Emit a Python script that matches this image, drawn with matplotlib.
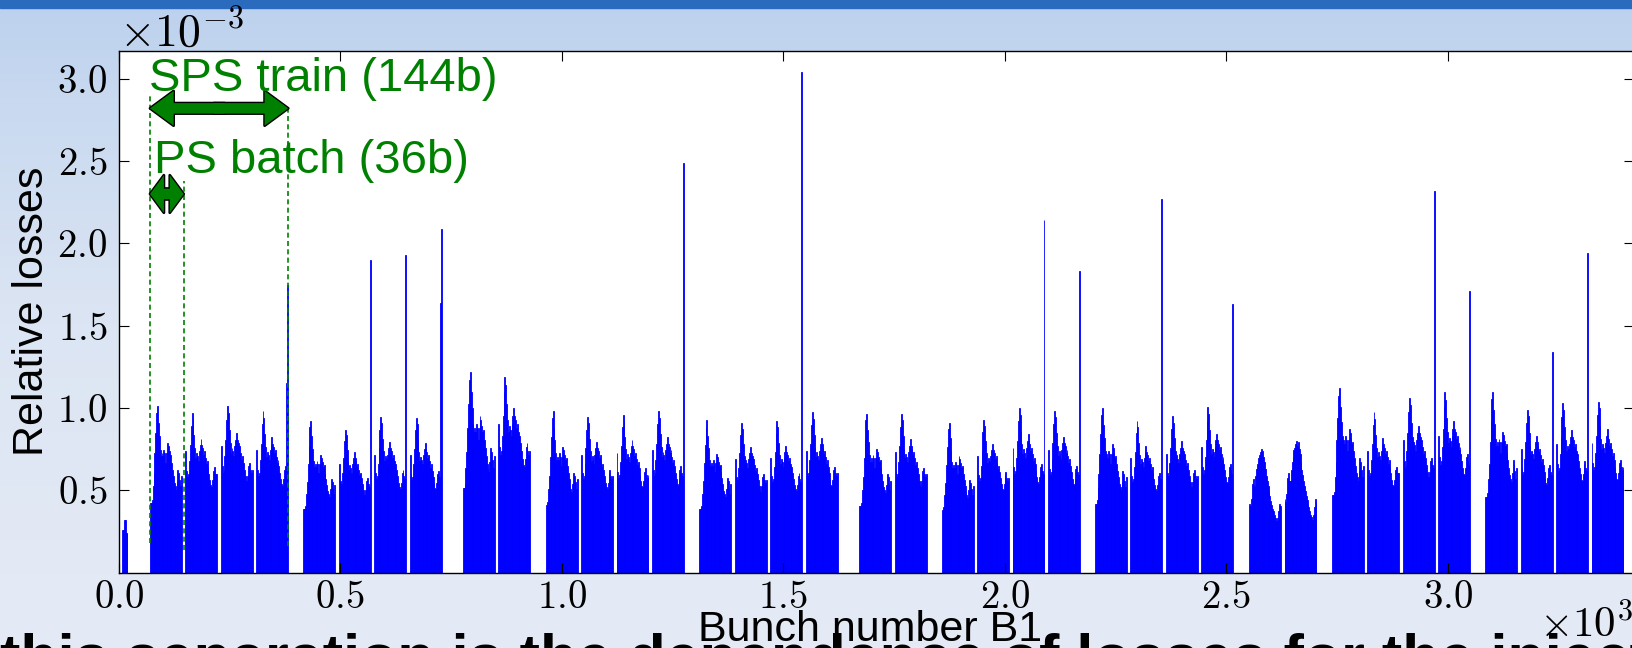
import numpy as np
import matplotlib
matplotlib.use('Agg')
import matplotlib.pyplot as plt
from matplotlib.colors import LinearSegmentedColormap
from matplotlib.patches import Rectangle

plt.rcParams.update({
    'font.family': 'cmr10',
    'mathtext.fontset': 'cm',
    'axes.formatter.use_mathtext': True,
    'axes.linewidth': 1.0,
})

# ---- data (losses in units of 1e-3, x in 25 ns slots) ----
pilot_slot = [8, 10, 12, 14, 16, 18]
pilot_loss = [0.26, 0.26, 0.32, 0.32, 0.24, 0.24]

train_start = [71, 417, 777, 964, 1311, 1672, 1858, 2204, 2552, 2739, 3085]
train_batches = [4, 4, 2, 4, 4, 2, 4, 4, 2, 4, 4]
train_kind = ['std', 'std', 'std', 'std', 'std', 'std', 'std', 'std', 'hump', 'std', 'std']

# peak level of every 36-bunch PS batch (spikes excluded)
batch_peak = [1.01, 0.97, 1.01, 0.98,
              0.92, 0.87, 0.945, 0.94,
              1.22, 1.19,
              0.98, 0.945, 0.96, 0.98,
              0.925, 0.91, 0.92, 0.975,
              0.965, 0.965,
              0.91, 0.93, 1.0, 0.985,
              1.0, 0.92, 0.95, 1.005,
              0.75, 0.80,
              1.12, 0.975, 1.06, 1.095,
              1.10, 0.99, 1.03, 1.04]

# typical bunch-by-bunch pattern inside a batch (peak = 1)
shape_head = [0.42, 0.42, 0.44, 0.52, 0.60, 0.72, 0.84, 0.96, 1.00, 0.90, 0.82, 0.74,
              0.70, 0.72, 0.70, 0.74, 0.72, 0.66, 0.72, 0.78, 0.76, 0.73, 0.70, 0.71,
              0.66, 0.62, 0.58, 0.54, 0.52, 0.50, 0.55, 0.62, 0.60, 0.56, 0.52, 0.58]
shape_next = [0.76, 0.64, 0.60, 0.62, 0.70, 0.80, 0.92, 1.00, 0.96, 0.86, 0.78, 0.72,
              0.75, 0.73, 0.70, 0.76, 0.80, 0.84, 0.80, 0.78, 0.74, 0.76, 0.72, 0.68,
              0.70, 0.66, 0.62, 0.58, 0.55, 0.54, 0.58, 0.64, 0.66, 0.62, 0.60, 0.62]
shape_hump = [0.56, 0.54, 0.60, 0.72, 0.76, 0.70, 0.70, 0.78, 0.84, 0.88, 0.93, 0.95,
              0.98, 1.00, 0.96, 0.99, 0.94, 0.90, 0.84, 0.78, 0.74, 0.70, 0.66, 0.62,
              0.58, 0.55, 0.52, 0.50, 0.47, 0.44, 0.42, 0.40, 0.44, 0.50, 0.56, 0.54]

# isolated high-loss bunches: (batch index, bunch index in batch, loss)
spike_batch = [3, 3, 5, 6, 7, 7, 13, 16, 22, 23, 25, 27, 32, 33, 35, 36]
spike_bunch = [34, 35, 35, 35, 34, 35, 35, 35, 35, 35, 35, 35, 35, 35, 35, 35]
spike_loss = [1.15, 1.75, 1.90, 1.93, 1.64, 2.09, 2.49, 3.04, 2.14, 1.83,
              2.27, 1.63, 2.32, 1.71, 1.34, 1.94]

BATCH_STEP = 80   # slots between PS batches
BUNCH_STEP = 2    # 50 ns spacing
N_BUNCH = 36

spikes = {(b, k): v for b, k, v in zip(spike_batch, spike_bunch, spike_loss)}

slots = list(pilot_slot)
losses = list(pilot_loss)
batch_first = []
ib = 0
for start, nb, kind in zip(train_start, train_batches, train_kind):
    for k in range(nb):
        first = start + k * BATCH_STEP
        batch_first.append(first)
        if kind == 'hump':
            shape = shape_hump
        elif k == 0:
            shape = shape_head
        else:
            shape = shape_next
        for j, s in enumerate(shape):
            slots.append(first + j * BUNCH_STEP)
            losses.append(spikes.get((ib, j), batch_peak[ib] * s))
        ib += 1

slots = np.array(slots)
losses = np.array(losses) * 1e-3

# ---- figure ----
fig = plt.figure(figsize=(16.33, 6.48), dpi=100)

# slide background
bg = fig.add_axes([0, 0, 1, 1], zorder=-10)
bg.axis('off')
cmap = LinearSegmentedColormap.from_list(
    'slide', [(0, '#e5ebf6'), (0.5, '#dce5f3'), (0.85, '#c8d9f0'), (1.0, '#bcd1ee')])
bg.imshow(np.linspace(0, 1, 256).reshape(-1, 1), aspect='auto', cmap=cmap,
          extent=[0, 1, 0, 1], origin='lower')
bg.add_patch(Rectangle((0, 0.988), 1, 0.012, color='#2a6bbd', transform=bg.transAxes))
bg.set_xlim(0, 1)
bg.set_ylim(0, 1)

fig.text(0.0, -0.045, 'this separation is the dependence of losses for the injection of SPS',
         fontsize=44, fontweight='bold', family='Liberation Sans', color='black',
         va='baseline', zorder=0)

ax = fig.add_axes([0.0726, 0.116, 0.9278, 0.8058], zorder=1)
ax.set_facecolor('white')
ax.bar(slots, losses, width=BUNCH_STEP, align='edge', color='#0000ff',
       edgecolor='#0000ff', linewidth=0.6)

ax.set_xlim(0, 3420)
ax.set_ylim(0, 3.17e-3)
ax.set_yticks([0.5e-3, 1.0e-3, 1.5e-3, 2.0e-3, 2.5e-3, 3.0e-3])
ax.ticklabel_format(style='sci', axis='both', scilimits=(0, 0), useMathText=True)
ax.tick_params(direction='in', top=True, right=True, length=7, width=0.8, labelsize=28)
ax.tick_params(axis='x', pad=5)
ax.tick_params(axis='y', pad=8)
ax.xaxis.get_offset_text().set_fontsize(31)
ax.yaxis.get_offset_text().set_fontsize(33)
ax.xaxis.OFFSETTEXTPAD = -9

ax.set_xlabel('Bunch number B1', fontsize=31, family='Liberation Sans')
ax.set_ylabel('Relative losses', fontsize=31, family='Liberation Sans')
ax.xaxis.set_label_coords(0.496, -0.072)
ax.yaxis.set_label_coords(-0.044, 0.5)

# ---- SPS train / PS batch annotation ----
green = '#008000'
train0_end = train_start[0] + (train_batches[0] - 1) * BATCH_STEP + N_BUNCH * BUNCH_STEP
batch0_end = batch_first[0] + N_BUNCH * BUNCH_STEP
batch_mark = 0.5 * (batch0_end + batch_first[1])

ax.vlines([train_start[0], batch_mark, train0_end],
          [0.18e-3, 0.14e-3, 0.16e-3], [2.9e-3, 2.38e-3, 2.82e-3],
          colors=green, linestyles=(0, (3, 2)), linewidth=1.2, zorder=3)


def double_arrow(x0, x1, y, head_w, head_l, tail_w):
    xm = 0.5 * (x0 + x1)
    ov = 0.04 * (x1 - x0)
    style = f'simple,head_length={head_l},head_width={head_w},tail_width={tail_w}'
    for lw, ec in [(2.0, 'black'), (0.0, 'none')]:
        for a, b in [(xm - ov, x1), (xm + ov, x0)]:
            ax.annotate('', xy=(b, y), xytext=(a, y),
                        arrowprops=dict(arrowstyle=style, fc=green, ec=ec, lw=lw,
                                        shrinkA=0, shrinkB=0, mutation_scale=1),
                        zorder=4)


double_arrow(train_start[0], train0_end, 2.82e-3, 25, 17, 7.5)
double_arrow(train_start[0], batch_mark, 2.30e-3, 27, 10, 7.5)

ax.text(train_start[0] - 2, 3.0e-3, 'SPS train (144b)', color=green, fontsize=34,
        family='Liberation Sans', va='center', ha='left', zorder=5)
ax.text(train_start[0] + 9, 2.5e-3, 'PS batch (36b)', color=green, fontsize=34,
        family='Liberation Sans', va='center', ha='left', zorder=5)

fig.savefig('out.png', dpi=100)
